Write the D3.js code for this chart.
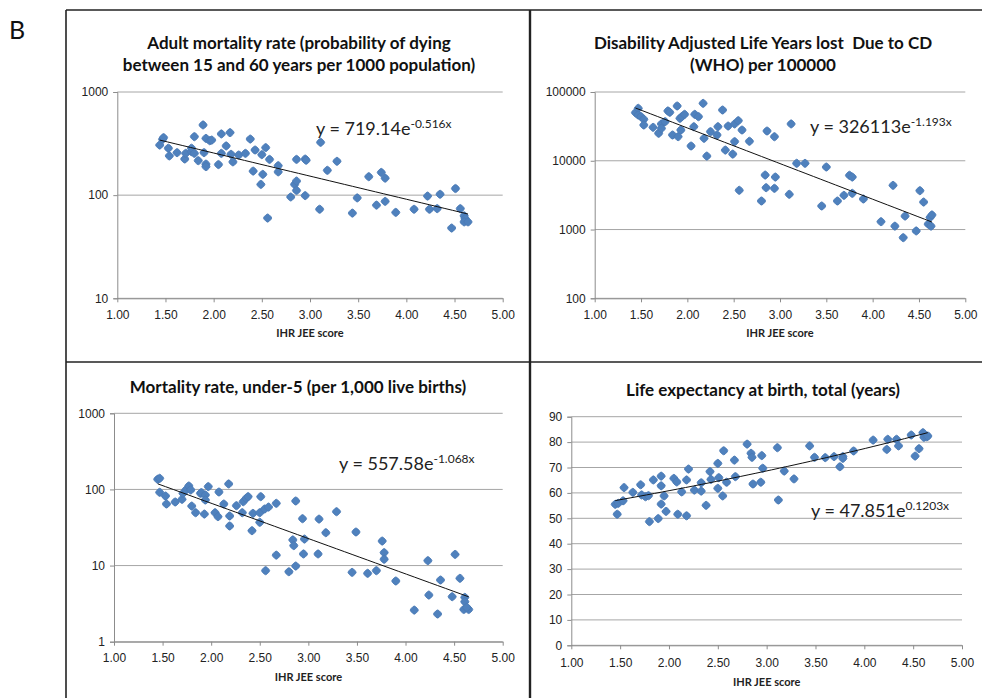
<!DOCTYPE html>
<html>
<head>
<meta charset="utf-8">
<script src="https://cdn.jsdelivr.net/npm/d3@7"></script>
<style>
  body { margin: 0; background: #fff; }
  svg { display: block; font-family: Lato, "Open Sans", sans-serif; }
</style>
</head>
<body>
<svg id="chart" width="982" height="698"></svg>
<script>
// x axis ticks shared by all four panels
const scoreTicks = [1.0, 1.5, 2.0, 2.5, 3.0, 3.5, 4.0, 4.5, 5.0];

// [IHR JEE score, value]
const adultMortality = [
  [1.44, 306], [1.47, 348], [1.48, 361], [1.53, 285], [1.54, 240], [1.62, 258],
  [1.70, 224], [1.71, 254], [1.77, 264], [1.77, 285], [1.80, 369], [1.80, 254],
  [1.84, 216], [1.89, 479], [1.90, 258], [1.92, 200], [1.92, 355], [1.92, 189],
  [1.96, 337], [1.98, 342], [2.05, 198], [2.08, 254], [2.08, 392], [2.13, 300],
  [2.17, 404], [2.18, 249], [2.20, 210], [2.26, 245], [2.33, 254], [2.38, 350],
  [2.41, 171], [2.43, 274], [2.50, 247], [2.49, 127], [2.51, 159], [2.54, 289],
  [2.56, 60], [2.58, 222], [2.67, 193], [2.67, 168], [2.80, 96], [2.84, 127],
  [2.86, 137], [2.86, 111], [2.86, 222], [2.95, 224], [2.96, 218], [2.95, 99],
  [3.11, 325], [3.10, 73], [3.18, 174], [3.28, 213], [3.44, 67], [3.49, 94],
  [3.61, 151], [3.69, 80], [3.74, 166], [3.78, 146], [3.78, 87], [3.89, 68],
  [4.08, 73], [4.22, 98], [4.24, 73], [4.32, 74], [4.35, 102], [4.47, 48],
  [4.51, 116], [4.56, 74], [4.60, 63], [4.61, 59], [4.60, 55], [4.64, 55]
];

const dalyCD = [
  [1.44, 50100], [1.47, 57900], [1.47, 46300], [1.50, 43800], [1.53, 40100], [1.53, 33100],
  [1.63, 30600], [1.69, 25100], [1.72, 34300], [1.72, 29600], [1.76, 37000], [1.79, 53000],
  [1.81, 50600], [1.84, 23700], [1.89, 62600], [1.90, 22400], [1.92, 41400], [1.93, 28000],
  [1.94, 43800], [1.97, 47300], [2.04, 16400], [2.08, 47300], [2.07, 31300], [2.12, 43800],
  [2.17, 68400], [2.18, 21200], [2.21, 11700], [2.25, 26500], [2.32, 23700], [2.33, 31300],
  [2.38, 54700], [2.41, 14300], [2.44, 32000], [2.49, 12500], [2.51, 34300], [2.51, 19000],
  [2.55, 38300], [2.56, 3720], [2.59, 28000], [2.67, 19200], [2.80, 2600], [2.84, 6200],
  [2.85, 4060], [2.86, 27100], [2.94, 22400], [2.94, 3970], [2.95, 5800], [3.10, 3250],
  [3.12, 34300], [3.18, 9180], [3.27, 9180], [3.45, 2200], [3.50, 8110], [3.62, 2600],
  [3.69, 3140], [3.75, 6140], [3.78, 5800], [3.78, 3360], [3.90, 2780], [4.09, 1300],
  [4.22, 4390], [4.24, 1120], [4.33, 762], [4.35, 1570], [4.47, 953], [4.51, 3670],
  [4.55, 2510], [4.60, 1200], [4.62, 1500], [4.63, 1120], [4.64, 1630]
];

const under5Mortality = [
  [1.45, 136], [1.47, 140], [1.47, 91.6], [1.53, 82], [1.54, 64.4], [1.63, 68.4],
  [1.70, 74.1], [1.71, 88.9], [1.74, 98.4], [1.77, 111], [1.79, 98.4], [1.80, 60.5],
  [1.84, 49.5], [1.89, 88.9], [1.90, 90.8], [1.93, 47.5], [1.94, 84.5], [1.94, 72.6],
  [1.97, 109], [2.04, 49.5], [2.07, 43.9], [2.08, 92.5], [2.13, 64.4], [2.18, 118],
  [2.19, 44.8], [2.19, 33.1], [2.26, 61.2], [2.32, 49.5], [2.33, 69], [2.36, 76.3],
  [2.38, 80.4], [2.42, 28.7], [2.43, 48.5], [2.50, 37], [2.50, 49.5], [2.51, 80.4],
  [2.55, 55.3], [2.56, 8.57], [2.59, 58.7], [2.67, 65.7], [2.67, 13.7], [2.80, 8.3],
  [2.84, 21.7], [2.85, 18.3], [2.87, 9.86], [2.87, 70.5], [2.94, 41.3], [2.95, 14.2],
  [2.96, 22.3], [3.10, 14.2], [3.11, 40.8], [3.18, 27], [3.29, 51], [3.45, 8.14],
  [3.49, 27.6], [3.61, 7.9], [3.70, 8.57], [3.76, 21], [3.78, 14.8], [3.78, 12.1],
  [3.90, 6.27], [4.09, 2.6], [4.23, 11.6], [4.24, 4.1], [4.33, 2.31], [4.36, 6.46],
  [4.48, 3.9], [4.51, 14], [4.56, 6.8], [4.61, 3.82], [4.61, 3.35], [4.60, 2.65],
  [4.65, 2.65], [4.63, 2.82]
];

const lifeExpectancy = [
  [1.45, 55.5], [1.48, 55.9], [1.47, 51.6], [1.53, 56.9], [1.54, 62.1], [1.63, 60.2],
  [1.71, 63.2], [1.72, 59.2], [1.76, 58.5], [1.79, 58.9], [1.80, 48.7], [1.84, 65.1],
  [1.89, 49.9], [1.92, 66.6], [1.92, 62.8], [1.92, 55.6], [1.95, 58.8], [1.97, 52.7],
  [2.05, 65.7], [2.08, 64.3], [2.09, 51.6], [2.13, 60.4], [2.18, 65.1], [2.18, 51.0],
  [2.20, 69.4], [2.26, 61.1], [2.33, 64.0], [2.33, 60.7], [2.38, 55.1], [2.42, 68.4],
  [2.43, 65.3], [2.50, 71.6], [2.50, 61.8], [2.51, 66.0], [2.55, 58.8], [2.56, 76.6],
  [2.59, 64.2], [2.67, 72.9], [2.68, 66.4], [2.80, 79.2], [2.84, 75.6], [2.85, 74.0],
  [2.86, 63.5], [2.94, 64.2], [2.95, 74.7], [2.96, 69.7], [3.11, 77.8], [3.12, 57.2],
  [3.18, 68.6], [3.28, 65.5], [3.44, 78.5], [3.49, 74.0], [3.60, 73.9], [3.69, 74.3],
  [3.75, 70.3], [3.78, 74.3], [3.78, 73.6], [3.89, 76.5], [4.09, 80.8], [4.23, 77.1],
  [4.24, 81.1], [4.33, 81.1], [4.35, 78.5], [4.48, 82.8], [4.52, 74.5], [4.56, 77.4],
  [4.60, 83.7], [4.61, 81.9], [4.64, 82.1], [4.65, 82.4]
];

// exponential trendlines y = a * e^(b x), as printed on the chart
const trendCoef = {
  adult: [719.14, -0.516],
  daly: [326113, -1.193],
  under5: [557.58, -1.068],
  life: [47.851, 0.1203]
};

const panels = [
  {
    title: ["Adult mortality rate (probability of dying", "between 15 and 60 years per 1000 population)"],
    titleX: 299, titleY: [49, 71],
    data: adultMortality, trend: trendCoef.adult, eqText: ["719.14", "-0.516x"],
    log: true, yDomain: [10, 1000], yTicks: [10, 100, 1000],
    xr: [117.3, 502.7], yr: [298.3, 92],
    eqX: 316, eqY: 135, xLabY: 319, axTitleY: 337
  },
  {
    title: ["Disability Adjusted Life Years lost  Due to CD", "(WHO) per 100000"],
    titleX: 763, titleY: [49, 71],
    data: dalyCD, trend: trendCoef.daly, eqText: ["326113", "-1.193x"],
    log: true, yDomain: [100, 100000], yTicks: [100, 1000, 10000, 100000],
    xr: [594.7, 965.3], yr: [298.3, 92],
    eqX: 810, eqY: 133, xLabY: 319, axTitleY: 337
  },
  {
    title: ["Mortality rate, under-5 (per 1,000 live births)"],
    titleX: 298, titleY: [393],
    data: under5Mortality, trend: trendCoef.under5, eqText: ["557.58", "-1.068x"],
    log: true, yDomain: [1, 1000], yTicks: [1, 10, 100, 1000],
    xr: [114, 502.7], yr: [641.7, 413.3],
    eqX: 339, eqY: 470, xLabY: 662, axTitleY: 681
  },
  {
    title: ["Life expectancy at birth, total (years)"],
    titleX: 763, titleY: [396],
    data: lifeExpectancy, trend: trendCoef.life, eqText: ["47.851", "0.1203x"],
    log: false, yDomain: [0, 90], yTicks: [0, 10, 20, 30, 40, 50, 60, 70, 80, 90],
    xr: [571.3, 962], yr: [645.3, 416.7],
    eqX: 811, eqY: 517, xLabY: 667, axTitleY: 686
  }
];

const svg = d3.select("#chart");
const blue = "#4f81bd";

// panel frame lines
const frame = svg.append("g").attr("stroke", "#222").attr("stroke-width", 1.6).attr("fill", "none");
frame.append("line").attr("x1", 66).attr("y1", 10).attr("x2", 982).attr("y2", 10);
frame.append("line").attr("x1", 66).attr("y1", 10).attr("x2", 66).attr("y2", 698);
frame.append("line").attr("x1", 530).attr("y1", 10).attr("x2", 530).attr("y2", 698).attr("stroke-width", 2.4);
frame.append("line").attr("x1", 66).attr("y1", 362).attr("x2", 982).attr("y2", 362);

svg.append("text")
  .attr("x", 9).attr("y", 39)
  .attr("font-size", 25)
  .attr("fill", "#111")
  .text("B");

panels.forEach(p => {
  const g = svg.append("g");

  const x = d3.scaleLinear().domain([1, 5]).range(p.xr);
  const y = (p.log ? d3.scaleLog() : d3.scaleLinear()).domain(p.yDomain).range(p.yr);

  // title
  p.title.forEach((t, i) => {
    g.append("text")
      .attr("x", p.titleX).attr("y", p.titleY[i])
      .attr("text-anchor", "middle")
      .attr("font-size", 17).attr("font-weight", "bold")
      .attr("fill", "#111")
      .style("white-space", "pre")
      .text(t);
  });

  // horizontal gridlines
  g.selectAll(".grid")
    .data(p.yTicks)
    .enter()
    .append("line")
    .attr("x1", p.xr[0]).attr("x2", p.xr[1])
    .attr("y1", d => y(d)).attr("y2", d => y(d))
    .attr("stroke", "#a6a6a6").attr("stroke-width", 1);

  // Y axis
  const yAxis = g.append("g")
    .attr("transform", `translate(${p.xr[0]},0)`)
    .call(d3.axisLeft(y).tickValues(p.yTicks).tickFormat(d3.format("d")).tickSize(4).tickPadding(5));
  yAxis.select(".domain").attr("stroke", "#8c8c8c");
  yAxis.selectAll(".tick line").attr("stroke", "#8c8c8c");
  yAxis.selectAll("text").attr("font-size", 12).attr("fill", "#222").attr("font-family", null);

  // X axis
  const xAxis = g.append("g")
    .attr("transform", `translate(0,${p.yr[0]})`)
    .call(d3.axisBottom(x).tickValues(scoreTicks).tickFormat(d3.format(".2f")).tickSizeInner(4).tickSizeOuter(0));
  xAxis.select(".domain").attr("stroke", "#8c8c8c");
  xAxis.selectAll(".tick line").attr("stroke", "#8c8c8c");
  xAxis.selectAll("text")
    .attr("font-size", 12).attr("fill", "#222").attr("font-family", null)
    .attr("dy", null)
    .attr("y", p.xLabY - p.yr[0]);

  g.append("text")
    .attr("x", (p.xr[0] + p.xr[1]) / 2).attr("y", p.axTitleY)
    .attr("text-anchor", "middle")
    .attr("font-size", 11).attr("font-weight", "bold").attr("fill", "#222")
    .text("IHR JEE score");

  // markers
  g.selectAll(".pt")
    .data(p.data)
    .enter()
    .append("rect")
    .attr("x", -3.4).attr("y", -3.4)
    .attr("width", 6.8).attr("height", 6.8)
    .attr("rx", 2)
    .attr("transform", d => `translate(${x(d[0])},${y(d[1])}) rotate(45)`)
    .attr("fill", blue)
    .attr("stroke", "#4a7ab5").attr("stroke-width", 0.8);

  // trendline over the data range
  const [x0, x1] = d3.extent(p.data, d => d[0]);
  const trendPts = d3.range(0, 41).map(i => {
    const xv = x0 + (x1 - x0) * i / 40;
    return [xv, p.trend[0] * Math.exp(p.trend[1] * xv)];
  });
  g.append("path")
    .datum(trendPts)
    .attr("fill", "none")
    .attr("stroke", "#111").attr("stroke-width", 1)
    .attr("d", d3.line().x(d => x(d[0])).y(d => y(d[1])));

  // equation label
  const eq = g.append("text")
    .attr("x", p.eqX).attr("y", p.eqY)
    .attr("font-size", 18).attr("fill", "#222");
  eq.append("tspan").text(`y = ${p.eqText[0]}e`);
  eq.append("tspan").attr("font-size", 12).attr("dy", -7).text(p.eqText[1]);
});
</script>
</body>
</html>
